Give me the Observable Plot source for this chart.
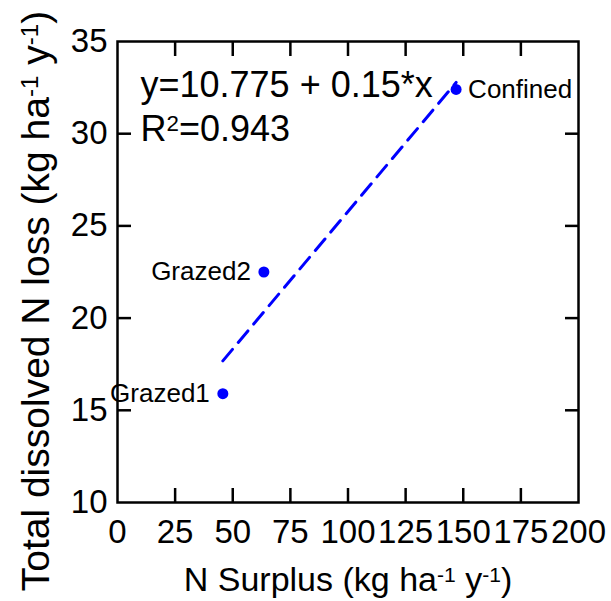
<!DOCTYPE html>
<html><head><meta charset="utf-8">
<script src="https://cdn.jsdelivr.net/npm/d3@7"></script>
<script src="https://cdn.jsdelivr.net/npm/@observablehq/plot@0.6"></script>
<style>
body{margin:0;background:#fff}
</style></head><body><div id="chart"></div>
<script>
const names = ["Grazed1", "Grazed2", "Confined"];
const nSurplus = [45.7, 63.5, 146.9];
const nLoss = [15.9, 22.5, 32.4];
const labelSide = ["left", "left", "right"];
const xTicks = [0, 25, 50, 75, 100, 125, 150, 175, 200];
const yTicks = [10, 15, 20, 25, 30, 35];
const innerXTicks = [25, 50, 75, 100, 125, 150, 175];
const innerYTicks = [15, 20, 25, 30];
const equationText = "y=10.775 + 0.15*x";
const r2Text = "R2=0.943";
const xTitle = "N Surplus (kg ha-1 y-1)";
const yTitle = "Total dissolved N loss (kg ha-1 y-1)";

const data = names.map((n, i) => ({name: n, x: nSurplus[i], y: nLoss[i], side: labelSide[i]}));
const blue = "#0000ff";
const font = "'Liberation Sans', Arial, Helvetica, sans-serif";

const chart = Plot.plot({
  width: 611, height: 601,
  marginLeft: 117, marginRight: 33, marginTop: 41, marginBottom: 99,
  style: {fontFamily: font, fontSize: "32px", color: "#000", background: "#fff", overflow: "visible"},
  x: {domain: [0, 200]},
  y: {domain: [10, 35]},
  marks: [
    Plot.linearRegressionY(data, {x: "x", y: "y", ci: 0, stroke: blue, strokeWidth: 3, strokeDasharray: "15,9"}),
    Plot.dot(data, {x: "x", y: "y", r: 5.5, fill: blue}),
    Plot.text(data.filter(d => d.side === "left"), {x: "x", y: "y", text: "name", textAnchor: "end", dx: -13, fontSize: 26, fill: "#000"}),
    Plot.text(data.filter(d => d.side === "right"), {x: "x", y: "y", text: "name", textAnchor: "start", dx: 12, fontSize: 26, fill: "#000"}),
    Plot.text([equationText], {frameAnchor: "top-left", lineAnchor: "top", dx: 23, dy: 30, fontSize: 36, fill: "#000"}),
    Plot.text([r2Text], {frameAnchor: "top-left", lineAnchor: "top", dx: 23, dy: 74, fontSize: 36, fill: "#000"}),
    Plot.axisX(xTicks, {anchor: "bottom", tickSize: 0, tickPadding: 17, fontSize: 33, label: xTitle, labelAnchor: "center", labelOffset: 88, labelArrow: "none"}),
    Plot.axisY(yTicks, {anchor: "left", tickSize: 0, tickPadding: 10, fontSize: 33, label: yTitle, labelAnchor: "center", labelOffset: 96, labelArrow: "none"}),
    Plot.axisX(innerXTicks, {anchor: "bottom", tickSize: -14, strokeWidth: 2.5, tickFormat: () => "", label: null}),
    Plot.axisX(innerXTicks, {anchor: "top", tickSize: -14, strokeWidth: 2.5, tickFormat: () => "", label: null}),
    Plot.axisY(innerYTicks, {anchor: "left", tickSize: -14, strokeWidth: 2.5, tickFormat: () => "", label: null}),
    Plot.axisY(innerYTicks, {anchor: "right", tickSize: -14, strokeWidth: 2.5, tickFormat: () => "", label: null}),
    Plot.frame({stroke: "#000", strokeWidth: 2.5})
  ]
});
document.getElementById("chart").appendChild(chart);

function supify(plain, html, size, dx) {
  chart.querySelectorAll("text, tspan").forEach(t => {
    if (t.children.length === 0 && t.textContent === plain) {
      t.innerHTML = html;
      if (size) t.setAttribute("font-size", size);
      if (dx) t.setAttribute("dx", dx);
    }
  });
}
const sup = s => `<tspan baseline-shift="45%" font-size="0.62em">${s}</tspan>`;
supify(xTitle, `N Surplus (kg ha${sup("-1")} y${sup("-1")})`, 34);
supify(yTitle, `Total dissolved N loss (kg ha${sup("-1")} y${sup("-1")})`, 39, -29);
supify(r2Text, `R${sup("2")}=0.943`);
</script></body></html>
